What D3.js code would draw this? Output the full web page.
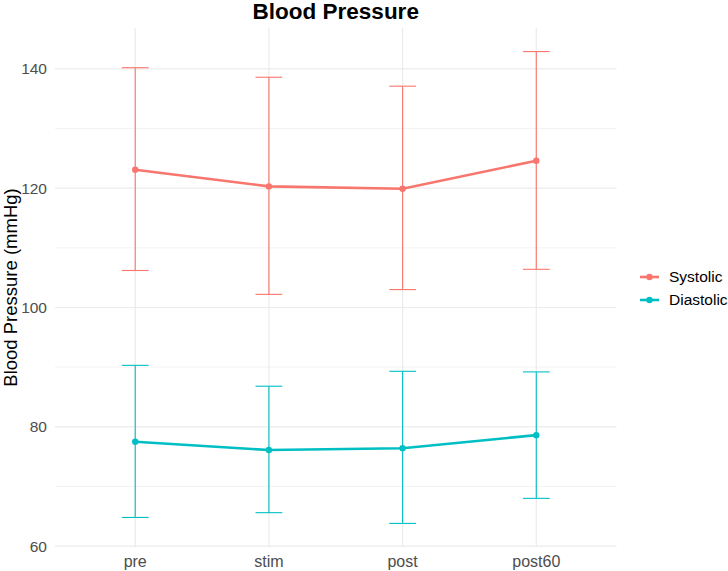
<!DOCTYPE html>
<html>
<head>
<meta charset="utf-8">
<script src="https://cdn.jsdelivr.net/npm/d3@7"></script>
<style>
  body { margin: 0; background: #fff; }
  svg { font-family: "Liberation Sans", Arial, sans-serif; }
</style>
</head>
<body>
<div id="chart"></div>
<script>
// values
var timepoints = ["pre", "stim", "post", "post60"];
var seriesNames = ["Systolic", "Diastolic"];
var seriesColors = ["#F8766D", "#00BFC4"];
var systolicMean  = [123.1, 120.3, 119.9, 124.6];
var systolicUpper = [140.2, 138.6, 137.1, 142.9];
var systolicLower = [106.2, 102.2, 103.0, 106.4];
var diastolicMean  = [77.5, 76.1, 76.4, 78.6];
var diastolicUpper = [90.3, 86.8, 89.3, 89.2];
var diastolicLower = [64.8, 65.6, 63.8, 68.0];
var yTicks = [60, 80, 100, 120, 140];
var yMinorTicks = [70, 90, 110, 130];

var series = [
  {name: seriesNames[0], color: seriesColors[0], mean: systolicMean, upper: systolicUpper, lower: systolicLower},
  {name: seriesNames[1], color: seriesColors[1], mean: diastolicMean, upper: diastolicUpper, lower: diastolicLower}
];

var W = 728, H = 571;
var panel = {left: 55, right: 616.5, top: 28, bottom: 547};

var svg = d3.select("#chart").append("svg")
  .attr("width", W).attr("height", H);

// discrete x scale, expand 0.6 each side like ggplot
var x = d3.scaleLinear()
  .domain([0.4, timepoints.length + 0.6])
  .range([panel.left, panel.right]);
var xPos = function(i) { return x(i + 1); };

var allVals = systolicUpper.concat(systolicLower, diastolicUpper, diastolicLower);
var yMin = d3.min(allVals), yMax = d3.max(allVals);
var pad = (yMax - yMin) * 0.05;
var y = d3.scaleLinear()
  .domain([yMin - pad, yMax + pad])
  .range([panel.bottom, panel.top]);

// grid
var grid = svg.append("g");
grid.selectAll("line.minor").data(yMinorTicks).enter().append("line")
  .attr("x1", panel.left).attr("x2", panel.right)
  .attr("y1", function(d) { return y(d); }).attr("y2", function(d) { return y(d); })
  .attr("stroke", "#ebebeb").attr("stroke-width", 0.6);
grid.selectAll("line.major").data(yTicks).enter().append("line")
  .attr("x1", panel.left).attr("x2", panel.right)
  .attr("y1", function(d) { return y(d); }).attr("y2", function(d) { return y(d); })
  .attr("stroke", "#ebebeb").attr("stroke-width", 1.2);
grid.selectAll("line.vx").data(timepoints).enter().append("line")
  .attr("x1", function(d, i) { return xPos(i); }).attr("x2", function(d, i) { return xPos(i); })
  .attr("y1", panel.top).attr("y2", panel.bottom)
  .attr("stroke", "#ebebeb").attr("stroke-width", 1.2);

// axes labels (no axis lines in theme_minimal)
svg.selectAll("text.ytick").data(yTicks).enter().append("text")
  .attr("x", panel.left - 8).attr("y", function(d) { return y(d); })
  .attr("dy", "0.35em").attr("text-anchor", "end")
  .attr("font-size", 15.5).attr("fill", "#4d4d4d")
  .text(function(d) { return d; });
svg.selectAll("text.xtick").data(timepoints).enter().append("text")
  .attr("x", function(d, i) { return xPos(i); }).attr("y", panel.bottom + 19.5)
  .attr("text-anchor", "middle")
  .attr("font-size", 16).attr("fill", "#4d4d4d")
  .text(function(d) { return d; });

svg.append("text")
  .attr("transform", "translate(16.5," + ((panel.top + panel.bottom) / 2) + ") rotate(-90)")
  .attr("text-anchor", "middle").attr("font-size", 18.5).attr("fill", "#000")
  .text("Blood Pressure (mmHg)");

svg.append("text")
  .attr("x", (panel.left + panel.right) / 2).attr("y", 19)
  .attr("text-anchor", "middle").attr("font-size", 22.5).attr("font-weight", "bold")
  .attr("fill", "#000")
  .text("Blood Pressure");

// series
var capHalf = (xPos(1) - xPos(0)) * 0.1;
var line = d3.line()
  .x(function(d, i) { return xPos(i); })
  .y(function(d) { return y(d); });

series.forEach(function(s) {
  var g = svg.append("g");
  g.selectAll("line.bar").data(timepoints).enter().append("line")
    .attr("x1", function(d, i) { return xPos(i); }).attr("x2", function(d, i) { return xPos(i); })
    .attr("y1", function(d, i) { return y(s.lower[i]); }).attr("y2", function(d, i) { return y(s.upper[i]); })
    .attr("stroke", s.color).attr("stroke-width", 1.1);
  ["upper", "lower"].forEach(function(k) {
    g.selectAll("line.cap" + k).data(timepoints).enter().append("line")
      .attr("x1", function(d, i) { return xPos(i) - capHalf; })
      .attr("x2", function(d, i) { return xPos(i) + capHalf; })
      .attr("y1", function(d, i) { return y(s[k][i]); }).attr("y2", function(d, i) { return y(s[k][i]); })
      .attr("stroke", s.color).attr("stroke-width", 1.1);
  });
  g.append("path").datum(s.mean)
    .attr("d", line).attr("fill", "none")
    .attr("stroke", s.color).attr("stroke-width", 2.6);
  g.selectAll("circle").data(s.mean).enter().append("circle")
    .attr("cx", function(d, i) { return xPos(i); }).attr("cy", function(d) { return y(d); })
    .attr("r", 3.2).attr("fill", s.color);
});

// legend
var legend = svg.append("g").attr("transform", "translate(640,277)");
series.forEach(function(s, i) {
  var row = legend.append("g").attr("transform", "translate(0," + (i * 23) + ")");
  row.append("line").attr("x1", 0).attr("x2", 19).attr("y1", 0).attr("y2", 0)
    .attr("stroke", s.color).attr("stroke-width", 2.6);
  row.append("circle").attr("cx", 9.5).attr("cy", 0).attr("r", 3.2).attr("fill", s.color);
  row.append("text").attr("x", 29).attr("y", 0).attr("dy", "0.35em")
    .attr("font-size", 15.5).attr("fill", "#000").text(s.name);
});
</script>
</body>
</html>
